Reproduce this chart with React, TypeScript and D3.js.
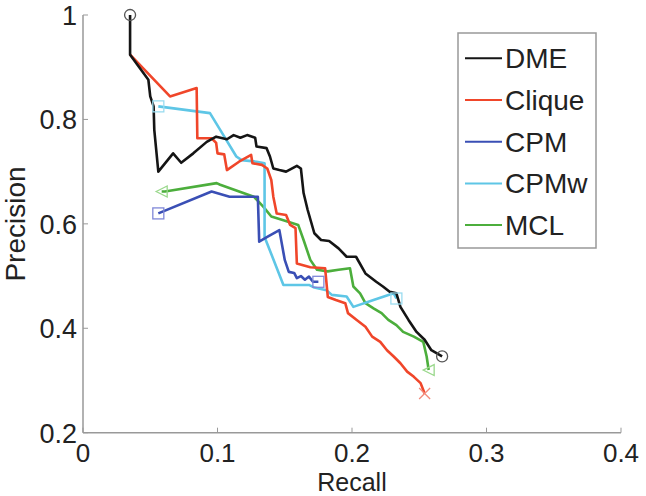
import React from "react";
import * as d3 from "d3";

const xTicks = [0, 0.1, 0.2, 0.3, 0.4];
const yTicks = [0.2, 0.4, 0.6, 0.8, 1];
const xTickLabels = ["0", "0.1", "0.2", "0.3", "0.4"];
const yTickLabels = ["0.2", "0.4", "0.6", "0.8", "1"];

const seriesNames = ["DME", "Clique", "CPM", "CPMw", "MCL"];
const seriesColors = ["#151515", "#f0462a", "#3a4fb5", "#5ec6e6", "#4cae3c"];
const markerColors = ["#555555", "#f28a7a", "#8088d8", "#9adcf0", "#9ad88c"];

const dmeRecall = [0.035, 0.035, 0.0486, 0.05, 0.0525, 0.053, 0.056, 0.067, 0.073, 0.082, 0.092, 0.099, 0.107, 0.112, 0.117, 0.122, 0.128, 0.129, 0.1365, 0.139, 0.1415, 0.146, 0.151, 0.159, 0.162, 0.164, 0.167, 0.172, 0.177, 0.183, 0.19, 0.196, 0.203, 0.21, 0.218, 0.223, 0.228, 0.233, 0.236, 0.242, 0.248, 0.254, 0.259, 0.267];
const dmePrecision = [1.0, 0.924, 0.876, 0.844, 0.825, 0.78, 0.7, 0.735, 0.717, 0.735, 0.757, 0.767, 0.762, 0.77, 0.765, 0.77, 0.765, 0.748, 0.745, 0.729, 0.706, 0.703, 0.7, 0.711, 0.706, 0.659, 0.627, 0.582, 0.569, 0.567, 0.553, 0.537, 0.537, 0.505, 0.489, 0.48, 0.47, 0.467, 0.441, 0.416, 0.393, 0.378, 0.358, 0.346];

const cliqueRecall = [0.035, 0.0647, 0.0845, 0.085, 0.0956, 0.099, 0.1, 0.105, 0.107, 0.116, 0.125, 0.126, 0.133, 0.137, 0.14, 0.1415, 0.144, 0.151, 0.154, 0.158, 0.159, 0.169, 0.18, 0.182, 0.188, 0.195, 0.197, 0.2035, 0.21, 0.215, 0.221, 0.226, 0.231, 0.236, 0.241, 0.246, 0.251, 0.254];
const cliquePrecision = [0.924, 0.844, 0.86, 0.764, 0.764, 0.755, 0.735, 0.733, 0.703, 0.719, 0.732, 0.716, 0.713, 0.706, 0.684, 0.652, 0.62, 0.617, 0.598, 0.592, 0.524, 0.517, 0.515, 0.46, 0.454, 0.448, 0.429, 0.416, 0.403, 0.384, 0.374, 0.358, 0.346, 0.333, 0.317, 0.307, 0.295, 0.275];

const cpmRecall = [0.056, 0.0956, 0.109, 0.13, 0.131, 0.137, 0.146, 0.15, 0.153, 0.157, 0.159, 0.162, 0.165, 0.168, 0.171, 0.175];
const cpmPrecision = [0.62, 0.662, 0.652, 0.652, 0.566, 0.575, 0.588, 0.531, 0.508, 0.506, 0.496, 0.5, 0.493, 0.499, 0.489, 0.489];

const cpmwRecall = [0.056, 0.0944, 0.102, 0.114, 0.118, 0.129, 0.135, 0.135, 0.149, 0.168, 0.172, 0.181, 0.185, 0.196, 0.201, 0.216, 0.231, 0.233];
const cpmwPrecision = [0.825, 0.812, 0.78, 0.729, 0.722, 0.719, 0.716, 0.575, 0.483, 0.483, 0.478, 0.473, 0.464, 0.461, 0.441, 0.454, 0.467, 0.457];

const mclRecall = [0.0585, 0.061, 0.0994, 0.102, 0.127, 0.134, 0.14, 0.149, 0.16, 0.164, 0.169, 0.174, 0.182, 0.19, 0.1985, 0.201, 0.206, 0.21, 0.216, 0.222, 0.227, 0.233, 0.238, 0.246, 0.253, 0.2555, 0.257];
const mclPrecision = [0.662, 0.662, 0.678, 0.675, 0.652, 0.633, 0.614, 0.607, 0.598, 0.569, 0.531, 0.512, 0.509, 0.512, 0.515, 0.48, 0.467, 0.448, 0.438, 0.429, 0.416, 0.406, 0.393, 0.384, 0.374, 0.346, 0.32];

const allRecall = [dmeRecall, cliqueRecall, cpmRecall, cpmwRecall, mclRecall];
const allPrecision = [dmePrecision, cliquePrecision, cpmPrecision, cpmwPrecision, mclPrecision];
const markerKinds = ["circle", "x", "square", "square", "triangle"];

const FONT = "'Liberation Sans', Arial, Helvetica, sans-serif";

function Marker({ kind, x, y, color }: { kind: string; x: number; y: number; color: string }) {
  const s = 5.5;
  if (kind === "circle") return <circle cx={x} cy={y} r={s} fill="none" stroke={color} strokeWidth={1.3} />;
  if (kind === "square") return <rect x={x - s} y={y - s} width={2 * s} height={2 * s} fill="none" stroke={color} strokeWidth={1.3} />;
  if (kind === "triangle")
    return <polygon points={`${x - s},${y} ${x + s},${y - s} ${x + s},${y + s}`} fill="none" stroke={color} strokeWidth={1.3} />;
  return (
    <path d={`M${x - s},${y - s}L${x + s},${y + s}M${x - s},${y + s}L${x + s},${y - s}`} stroke={color} strokeWidth={1.3} />
  );
}

export default function App() {
  const W = 646, H = 496;
  const x = d3.scaleLinear().domain([0, 0.4]).range([83, 621]);
  const y = d3.scaleLinear().domain([0.2, 1]).range([432.7, 15]);
  const line = d3.line<[number, number]>().x((d) => x(d[0])).y((d) => y(d[1]));

  const legendX = 458, legendY = 33, legendW = 138, legendH = 215;
  const rowY = (i: number) => 58.3 + i * 41.7;

  return (
    <svg width={W} height={H} style={{ position: "absolute", left: 0, top: 0, background: "#fff" }} fontFamily={FONT}>
      <rect x={0} y={0} width={W} height={H} fill="#fff" />
      {/* axes */}
      <line x1={x(0)} x2={x(0)} y1={y(1)} y2={y(0.2)} stroke="#999" strokeWidth={1.5} />
      <line x1={x(0)} x2={x(0.4)} y1={y(0.2)} y2={y(0.2)} stroke="#999" strokeWidth={1.5} />
      {xTicks.map((t, i) => (
        <g key={"xt" + i}>
          <line x1={x(t)} x2={x(t)} y1={y(0.2)} y2={y(0.2) - 5} stroke="#999" strokeWidth={1} />
          <text x={x(t)} y={462} textAnchor="middle" fontSize={26} fill="#222">{xTickLabels[i]}</text>
        </g>
      ))}
      {yTicks.map((t, i) => (
        <g key={"yt" + i}>
          <line x1={x(0)} x2={x(0) + 5} y1={y(t)} y2={y(t)} stroke="#999" strokeWidth={1} />
          <text x={77} y={y(t) + 10} textAnchor="end" fontSize={27} fill="#222">{yTickLabels[i]}</text>
        </g>
      ))}
      <text x={352} y={490.5} textAnchor="middle" fontSize={25} fill="#222">Recall</text>
      <text transform="translate(25,224) rotate(-90)" textAnchor="middle" fontSize={28} fill="#222">Precision</text>

      {/* series (draw in reverse so DME on top) */}
      {[4, 3, 2, 1, 0].map((si) => {
        const pts = allRecall[si].map((r, k) => [r, allPrecision[si][k]] as [number, number]);
        return (
          <path key={"s" + si} d={line(pts) || ""} fill="none" stroke={seriesColors[si]} strokeWidth={2.6} strokeLinejoin="round" />
        );
      })}
      {[4, 3, 2, 1, 0].map((si) => {
        const rs = allRecall[si], ps = allPrecision[si];
        const first = 0, last = rs.length - 1;
        return (
          <g key={"m" + si}>
            {si !== 1 && <Marker kind={markerKinds[si]} x={x(rs[first])} y={y(ps[first])} color={markerColors[si]} />}
            <Marker kind={markerKinds[si]} x={x(rs[last])} y={y(ps[last])} color={markerColors[si]} />
          </g>
        );
      })}

      {/* legend */}
      <rect x={legendX} y={legendY} width={legendW} height={legendH} fill="#fff" stroke="#999" strokeWidth={1.5} />
      {seriesNames.map((n, i) => (
        <g key={"l" + i}>
          <line x1={465} x2={502} y1={rowY(i)} y2={rowY(i)} stroke={seriesColors[i]} strokeWidth={2} />
          <text x={505} y={rowY(i) + 10} fontSize={28} fill="#222">{n}</text>
        </g>
      ))}
    </svg>
  );
}
